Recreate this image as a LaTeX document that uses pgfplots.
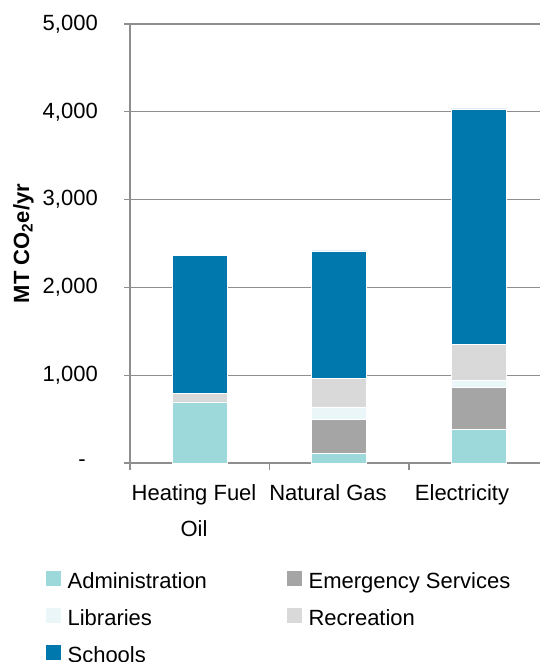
\documentclass[border=0pt]{standalone}
\usepackage{fontspec}
\setmainfont{Liberation Sans}
\usepackage{pgfplots}
\pgfplotsset{compat=1.18}
\definecolor{cAdm}{HTML}{9DD8DA}
\definecolor{cEm}{HTML}{A5A5A5}
\definecolor{cLib}{HTML}{EAF6F7}
\definecolor{cRec}{HTML}{D9D9D9}
\definecolor{cSch}{HTML}{0077AD}
\definecolor{cGrid}{HTML}{8E8E8E}
\begin{document}
\begin{tikzpicture}
\begin{axis}[
  at={(0,0)}, anchor=south west,
  scale only axis, width=410pt, height=439pt,
  ybar stacked, bar width=55pt,
  xmin=-0.5, xmax=2.439, ymin=0, ymax=5000,
  clip=false,
  axis x line*=bottom, axis y line*=left,
  axis line style={draw=cGrid, line width=1.3pt},
  ymajorgrids, grid style={draw=cGrid, line width=1.3pt},
  tick align=outside,
  ytick={0,1000,2000,3000,4000,5000},
  yticklabels={{-\hspace*{12pt}},{1,000},{2,000},{3,000},{4,000},{5,000}},
  major y tick style={draw=cGrid, line width=1.3pt},
  major tick length=6pt,
  yticklabel style={anchor=east, inner sep=0pt, xshift=-26pt, font=\fontsize{22}{26}\selectfont},
  xtick={-0.041,0.919,1.88},
  xticklabels={{Heating Fuel\\Oil},{Natural Gas},{Electricity}},
  major x tick style={draw=none},
  minor xtick={-0.5,0.5,1.5},
  minor x tick style={draw=cGrid, line width=1.3pt},
  minor tick length=7pt,
  xticklabel style={anchor=north, align=center, inner sep=0pt, yshift=-15pt, font=\fontsize{22}{36}\selectfont},
  every axis y label/.style={at={(axis description cs:-0.26,0.5)}, rotate=90, anchor=center},
  ylabel={\fontsize{22}{26}\selectfont\bfseries MT CO\textsubscript{2}e/yr},
  legend columns=2, legend cell align=left,
  legend image code/.code={\fill[#1] (0pt,-3pt) rectangle (16pt,13pt);},
  legend style={at={(axis description cs:-0.2073,-0.2437)}, anchor=north west,
    draw=none, fill=none, inner sep=0pt, outer sep=0pt,
    font=\fontsize{22}{26}\selectfont,
    nodes={inner sep=1pt, text height=15pt, text depth=4pt},
    row sep=13pt,
    /tikz/every odd column/.append style={column sep=5pt},
    /tikz/every even column/.append style={column sep=78pt}},
]
\addplot+[fill=cAdm, draw=white, line width=0.6pt] coordinates {(0,695) (1,110) (2,387)};
\addplot+[fill=cEm, draw=white, line width=0.6pt] coordinates {(0,0) (1,391) (2,475)};
\addplot+[fill=cLib, draw=white, line width=0.6pt] coordinates {(0,0) (1,137) (2,83)};
\addplot+[fill=cRec, draw=white, line width=0.6pt] coordinates {(0,100) (1,327) (2,407)};
\addplot+[fill=cSch, draw=white, line width=0.6pt] coordinates {(0,1570) (1,1450) (2,2680)};
\legend{Administration, Emergency Services, Libraries, Recreation, Schools}
\end{axis}
\pgfresetboundingbox
\path[use as bounding box] (-130pt,-199pt) rectangle (410pt,463pt);
\end{tikzpicture}
\end{document}
